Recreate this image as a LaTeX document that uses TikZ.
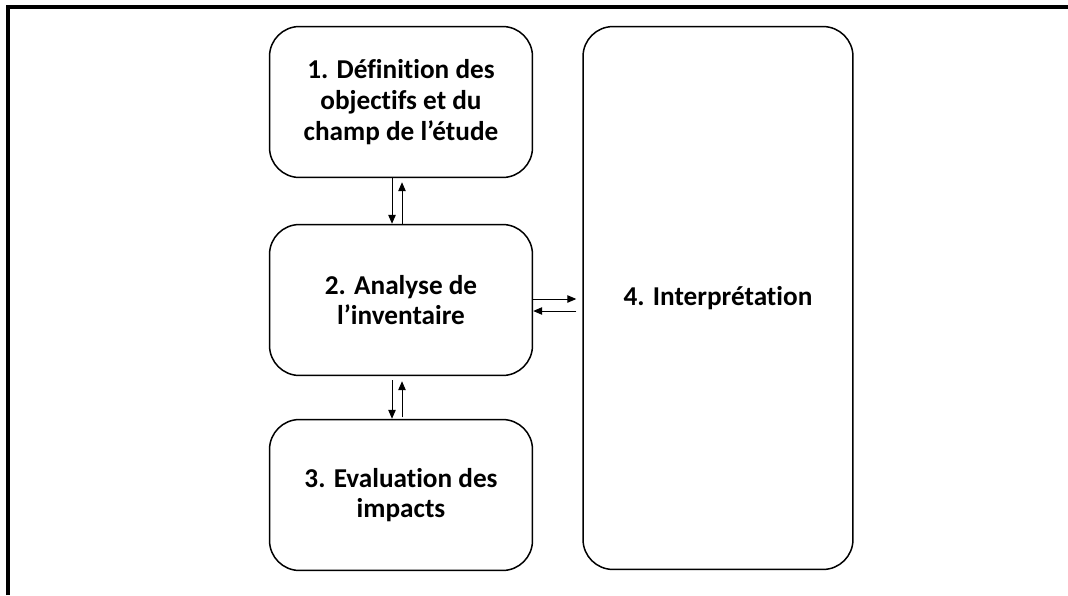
\documentclass[tikz,border=0pt]{standalone}
\usepackage{fontspec}
\setmainfont[Ligatures=NoCommon]{Carlito}
\usetikzlibrary{arrows.meta}
\tikzset{
	etape/.style={draw, line width=0.3mm, rounded corners=0.6cm, align=center,
		font=\bfseries\fontsize{15.5}{17.5}\selectfont,
		minimum width=5.26cm, minimum height=3.02cm, inner sep=0pt},
	fleche/.style={-{Triangle[length=1.8mm,width=1.5mm]}, line width=0.2mm}
}
\begin{document}
\begin{tikzpicture}[x=0.02cm,y=-0.02cm]
	\useasboundingbox (0,0) rectangle (1068,595);
	\draw[line width=0.7mm] (8,595)--(8,7)--(1068,7);
	\foreach \y/\nom/\texte in {102/b1/{1. Définition des\\objectifs et du\\champ de l’étude},
		300/b2/{2. Analyse de\\l’inventaire},
		495/b3/{3. Evaluation des\\impacts}}
	\path (401,\y) node[etape](\nom){\texte};
	\path (718,298) node[etape,minimum width=5.4cm,minimum height=10.86cm](b4){4. Interprétation};
	\draw[fleche] ([xshift=-1.8mm]b1.south) -- ([xshift=-1.8mm]b2.north);
	\draw[fleche] ([xshift=0.2mm]b2.north) -- ([xshift=0.2mm,yshift=-0.8mm]b1.south);
	\draw[fleche] ([xshift=-1.8mm,yshift=-0.8mm]b2.south) -- ([xshift=-1.8mm]b3.north);
	\draw[fleche] ([xshift=0.2mm,yshift=0.3mm]b3.north) -- ([xshift=0.2mm,yshift=-1mm]b2.south);
	\draw[fleche,shorten >=1.2mm] ([yshift=0.2mm]b2.east) -- ([yshift=0.2mm]b2.east -| b4.west);
	\draw[fleche,shorten <=1.2mm] ([yshift=-2.2mm]b2.east -| b4.west) -- ([yshift=-2.2mm]b2.east);
\end{tikzpicture}
\end{document}
